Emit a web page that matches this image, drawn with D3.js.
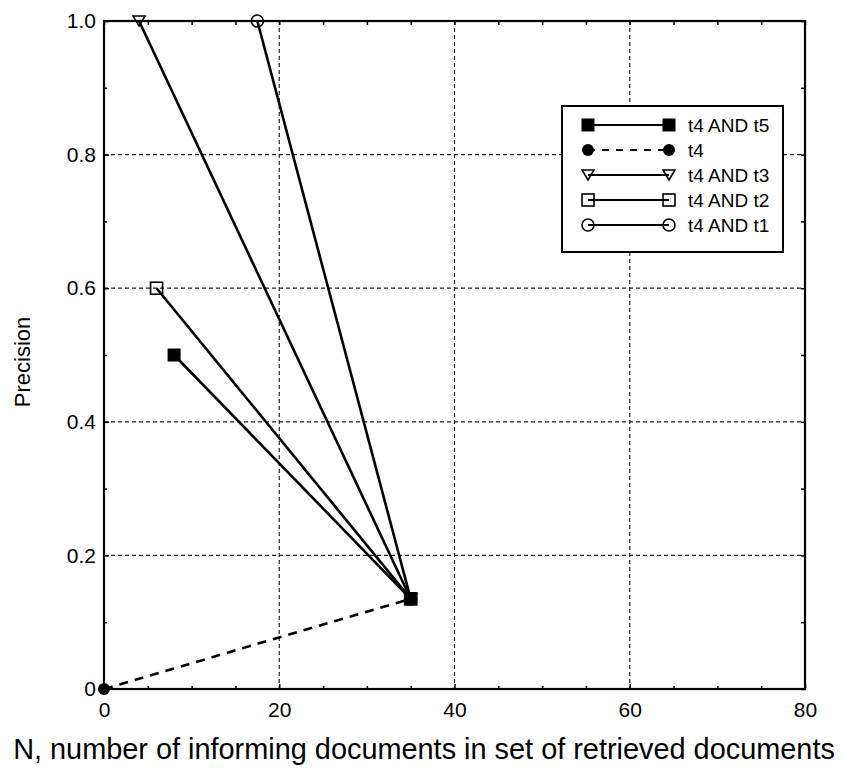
<!DOCTYPE html>
<html><head><meta charset="utf-8">
<script src="https://cdn.jsdelivr.net/npm/d3@7"></script>
<style>body{margin:0;background:#fff} text{font-family:"Liberation Sans",Arial,sans-serif;fill:#000}</style>
</head><body><svg id="c" width="844" height="773"></svg>
<script>
// ---- data ----
const seriesNames = ["t4 AND t5", "t4", "t4 AND t3", "t4 AND t2", "t4 AND t1"];
const seriesX = [[8, 35], [0, 35], [4, 35], [6, 35], [17.5, 35]];
const seriesY = [[0.5, 0.135], [0, 0.135], [1.0, 0.135], [0.6, 0.135], [1.0, 0.135]];
const seriesMarker = ["filledSquare", "filledCircle", "triangleDown", "openSquare", "openCircle"];
const seriesDashed = [false, true, false, false, false];
const xTicks = [0, 20, 40, 60, 80];
const xMinorTicks = [5,10,15,25,30,35,45,50,55,65,70,75];
const yTicks = [0, 0.2, 0.4, 0.6, 0.8, 1.0];
const yMinorTicks = [0.1,0.3,0.5,0.7,0.9];
const yTickLabels = ["0", "0.2", "0.4", "0.6", "0.8", "1.0"];
const xTitle = "N, number of informing documents in set of retrieved documents";
const yTitle = "Precision";

// ---- layout ----
const L = 104, R = 805, T = 21, B = 689;
const svg = d3.select("#c");
const x = d3.scaleLinear().domain([0, 80]).range([L, R]);
const y = d3.scaleLinear().domain([0, 1]).range([B, T]);

// grid
const g = svg.append("g");
g.selectAll(".gx").data(xTicks.slice(1, -1)).enter().append("line")
  .attr("x1", d => x(d)).attr("x2", d => x(d)).attr("y1", T).attr("y2", B)
  .attr("stroke", "#222").attr("stroke-width", 1.2).attr("stroke-dasharray", "4,3");
g.selectAll(".gy").data(yTicks.slice(1, -1)).enter().append("line")
  .attr("y1", d => y(d)).attr("y2", d => y(d)).attr("x1", L).attr("x2", R)
  .attr("stroke", "#222").attr("stroke-width", 1.2).attr("stroke-dasharray", "4,3");

// axes (ticks inward)
const ax = svg.append("g");
ax.append("g").attr("transform", `translate(0,${B})`)
  .call(d3.axisBottom(x).tickValues(xTicks).tickSize(-5).tickPadding(13).tickFormat(d3.format("d")));
ax.append("g").attr("transform", `translate(0,${B})`)
  .call(d3.axisBottom(x).tickValues(xMinorTicks).tickSize(-3).tickFormat(""));
ax.append("g").attr("transform", `translate(0,${T})`)
  .call(d3.axisTop(x).tickValues(xTicks.concat(xMinorTicks)).tickSize(-4).tickFormat(""));
ax.append("g").attr("transform", `translate(${L},0)`)
  .call(d3.axisLeft(y).tickValues(yTicks).tickSize(-5).tickPadding(8).tickFormat((d, i) => yTickLabels[i]));
ax.append("g").attr("transform", `translate(${L},0)`)
  .call(d3.axisLeft(y).tickValues(yMinorTicks).tickSize(-3).tickFormat(""));
ax.append("g").attr("transform", `translate(${R},0)`)
  .call(d3.axisRight(y).tickValues(yTicks.concat(yMinorTicks)).tickSize(-4).tickFormat(""));
ax.selectAll(".domain").remove();
ax.selectAll(".tick line").attr("stroke", "#000").attr("stroke-width", 1.5);
ax.selectAll(".tick text").style("font-size", "21px").attr("fill", "#000");

// frame
svg.append("rect").attr("x", L).attr("y", T).attr("width", R - L).attr("height", B - T)
  .attr("fill", "none").attr("stroke", "#000").attr("stroke-width", 2.2);

// marker drawing
function drawMarker(sel, type, cx, cy) {
  const s = 6;
  if (type === "filledSquare") sel.append("rect").attr("x", cx - s - 0.5).attr("y", cy - s - 0.5).attr("width", 2 * s + 1).attr("height", 2 * s + 1).attr("fill", "#000");
  else if (type === "filledCircle") sel.append("circle").attr("cx", cx).attr("cy", cy).attr("r", s).attr("fill", "#000");
  else if (type === "openSquare") sel.append("rect").attr("x", cx - s).attr("y", cy - s).attr("width", 2 * s).attr("height", 2 * s).attr("fill", "none").attr("stroke", "#000").attr("stroke-width", 1.6);
  else if (type === "openCircle") sel.append("circle").attr("cx", cx).attr("cy", cy).attr("r", s).attr("fill", "none").attr("stroke", "#000").attr("stroke-width", 1.6);
  else if (type === "triangleDown") sel.append("path").attr("d", `M${cx - s},${cy - s + 1}L${cx + s},${cy - s + 1}L${cx},${cy + s - 1}Z`).attr("fill", "none").attr("stroke", "#000").attr("stroke-width", 1.6);
}

// series lines
const line = d3.line().x(d => x(d[0])).y(d => y(d[1]));
const plot = svg.append("g");
seriesNames.forEach((n, i) => {
  const pts = seriesX[i].map((v, j) => [v, seriesY[i][j]]);
  plot.append("path").attr("d", line(pts)).attr("fill", "none").attr("stroke", "#000")
    .attr("stroke-width", 2.6).attr("stroke-dasharray", seriesDashed[i] ? "9,7" : null);
});
// markers (draw filled square last)
[4, 3, 2, 1, 0].forEach(i => {
  seriesX[i].forEach((v, j) => drawMarker(plot, seriesMarker[i], x(v), y(seriesY[i][j])));
});

// legend
const LX = 562, LY = 106, LW = 221, LH = 146, rowY0 = 125, rowStep = 25;
const leg = svg.append("g");
leg.append("rect").attr("x", LX).attr("y", LY).attr("width", LW).attr("height", LH)
  .attr("fill", "#fff").attr("stroke", "#000").attr("stroke-width", 2);
seriesNames.forEach((n, i) => {
  const yy = rowY0 + i * rowStep;
  leg.append("line").attr("x1", 588).attr("x2", 669).attr("y1", yy).attr("y2", yy)
    .attr("stroke", "#000").attr("stroke-width", 1.8).attr("stroke-dasharray", seriesDashed[i] ? "7,7" : null);
  drawMarker(leg, seriesMarker[i], 588, yy);
  drawMarker(leg, seriesMarker[i], 669, yy);
  leg.append("text").attr("x", 688).attr("y", yy).attr("dy", "0.35em").style("font-size", "19px").text(n);
});

// axis titles
const xt = svg.append("text").attr("x", 424).attr("y", 759).attr("text-anchor", "middle").style("font-size", "22px").text(xTitle);
const w = xt.node().getComputedTextLength();
xt.style("font-size", (22 * 822 / w).toFixed(2) + "px");
svg.append("text").attr("transform", "translate(30,362) rotate(-90)").attr("text-anchor", "middle").style("font-size", "22px").text(yTitle);
</script></body></html>
